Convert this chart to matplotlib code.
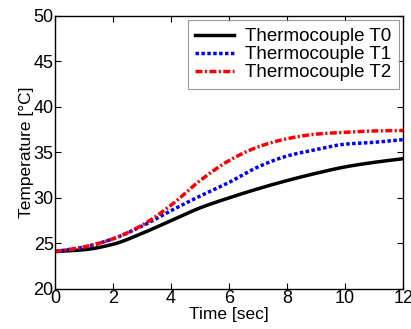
import numpy as np
import matplotlib
matplotlib.use("Agg")
import matplotlib.pyplot as plt

plt.rcParams["font.family"] = ["Liberation Sans", "DejaVu Sans"]

time_s = [0, 1, 2, 3, 4, 5, 6, 7, 8, 9, 10, 11, 12]
t0 = [24.1, 24.3, 24.9, 26.1, 27.5, 28.9, 30.0, 31.0, 31.9, 32.7, 33.4, 33.9, 34.3]
t1 = [24.1, 24.6, 25.5, 26.9, 28.6, 30.2, 31.7, 33.4, 34.6, 35.3, 35.9, 36.1, 36.4]
t2 = [24.1, 24.6, 25.5, 27.0, 29.2, 31.9, 34.1, 35.6, 36.5, 37.0, 37.2, 37.35, 37.4]


def pchip(x, y, n=300):
    # monotone cubic interpolation (Fritsch-Carlson) to draw smooth curves
    x = np.asarray(x, float); y = np.asarray(y, float)
    h = np.diff(x); d = np.diff(y) / h
    m = np.zeros_like(y)
    for i in range(1, len(y) - 1):
        if d[i-1] * d[i] > 0:
            w1 = 2*h[i] + h[i-1]; w2 = h[i] + 2*h[i-1]
            m[i] = (w1 + w2) / (w1/d[i-1] + w2/d[i])
    m[0] = d[0]; m[-1] = d[-1]
    xs = np.linspace(x[0], x[-1], n)
    k = np.clip(np.searchsorted(x, xs) - 1, 0, len(h) - 1)
    t = (xs - x[k]) / h[k]
    h00 = 2*t**3 - 3*t**2 + 1; h10 = t**3 - 2*t**2 + t
    h01 = -2*t**3 + 3*t**2; h11 = t**3 - t**2
    ys = h00*y[k] + h10*h[k]*m[k] + h01*y[k+1] + h11*h[k]*m[k+1]
    return xs, ys


fig = plt.figure(figsize=(4.11, 3.29), dpi=100)
ax = fig.add_axes([0.134, 0.122, 0.847, 0.830])

x0, y0 = pchip(time_s, t0)
x1, y1 = pchip(time_s, t1)
x2, y2 = pchip(time_s, t2)
ax.plot(x0, y0, color="black", lw=2.5, label="Thermocouple T0")
ax.plot(x1, y1, color="blue", lw=2.5, ls=(0, (1.0, 0.7)), label="Thermocouple T1")
ax.plot(x2, y2, color="red", lw=2.5, ls=(0, (2.0, 0.7, 0.6, 0.7)), label="Thermocouple T2")

ax.set_xlim(0, 12)
ax.set_ylim(20, 50)
ax.set_xticks(range(0, 13, 2))
ax.set_yticks(range(20, 51, 5))
ax.tick_params(direction="in", top=True, right=True, labelsize=13, length=4, pad=1)
for s in ax.spines.values():
    s.set_linewidth(1.0)
ax.set_xlabel("Time [sec]", fontsize=12.5, labelpad=0)
ax.set_ylabel("Temperature [\u00b0C]", fontsize=12.5, labelpad=0)

leg = ax.legend(loc="upper right", fontsize=13.5, frameon=True, fancybox=False,
                edgecolor="gray", borderaxespad=0.25, handlelength=2.1,
                handletextpad=0.55, labelspacing=0.05, borderpad=0.4)
leg.get_frame().set_linewidth(0.8)

fig.savefig("out.png", dpi=100)
